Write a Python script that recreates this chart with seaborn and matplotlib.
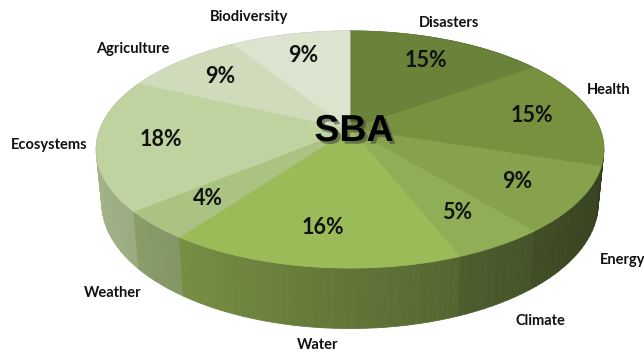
"""3D-style pie of SBA shares, drawn with matplotlib polygons on a seaborn theme."""
import matplotlib
matplotlib.use("Agg")
import matplotlib.pyplot as plt
import matplotlib.patheffects as pe
import numpy as np
import seaborn as sns

# data
categories = ["Disasters", "Health", "Energy", "Climate", "Water",
              "Weather", "Ecosystems", "Agriculture", "Biodiversity"]
shares = [15, 15, 9, 5, 16, 4, 18, 9, 9]
pct_labels = [f"{v}%" for v in shares]
center_title = "SBA"

# style
top_hex = ["#6a833b", "#78913f", "#86a24d", "#8fae55", "#9bbb59",
           "#aac383", "#bfd3a0", "#cfdbbb", "#dce4cf"]
# small pixel nudges for the outside labels (Excel-like placement)
label_nudge = {"Health": (-22, -20), "Ecosystems": (12, 0), "Energy": (6, -4),
               "Climate": (6, 5), "Water": (8, 4), "Biodiversity": (2, -4),
               "Disasters": (-6, -4)}

sns.set_theme(style="white")
plt.rcParams["font.family"] = ["Lato", "DejaVu Sans"]
pal = sns.color_palette(top_hex)

# projection of a tilted disc with mild perspective (image pixel coords)
CX, CY = 350.0, 129.0
SPHI = 0.46
CPHI = np.sqrt(1 - SPHI ** 2)
PERSP = 0.173
DIST = CPHI / PERSP
FOC = 250.0 * DIST
HEIGHT = 0.245


def project(r, theta, y=0.0):
    x = r * np.cos(theta)
    z = r * np.sin(theta)
    yc = y * CPHI + z * SPHI
    d = DIST + z * CPHI - y * SPHI
    return CX + FOC * x / d, CY - FOC * yc / d


def shade(rgb, theta):
    f = 0.63 - 0.23 * np.cos(theta)
    return tuple(np.clip(np.array(rgb) * f, 0, 1))


fig = plt.figure(figsize=(6.44, 3.52), dpi=100)
ax = fig.add_axes([0, 0, 1, 1])
ax.set_xlim(0, 644)
ax.set_ylim(352, 0)
ax.axis("off")

total = float(sum(shares))
bounds = np.concatenate([[0], np.cumsum(shares)]) / total
starts = np.pi / 2 - 2 * np.pi * bounds[:-1]
ends = np.pi / 2 - 2 * np.pi * bounds[1:]

# side wall, split into thin quads for a left-to-right gradient
quads = []
for i, (a, b) in enumerate(zip(starts, ends)):
    n = max(2, int(np.degrees(a - b) / 2))
    ts = np.linspace(a, b, n + 1)
    for t0, t1 in zip(ts[:-1], ts[1:]):
        tm = 0.5 * (t0 + t1)
        quads.append((np.sin(tm), t0, t1, shade(pal[i], tm)))
quads.sort(key=lambda q: -q[0])
for _, t0, t1, col in quads:
    p = [project(1, t0), project(1, t1), project(1, t1, -HEIGHT), project(1, t0, -HEIGHT)]
    xs, ys = zip(*p)
    ax.fill(xs, ys, color=col, lw=0.6, ec=col, zorder=1)

# top faces
for i, (a, b) in enumerate(zip(starts, ends)):
    ts = np.linspace(a, b, 80)
    xs, ys = project(1, ts)
    xs = np.concatenate([[CX], xs])
    ys = np.concatenate([[CY], ys])
    ax.fill(xs, ys, color=pal[i], lw=0.6, ec=pal[i], zorder=2)

# labels
mids = 0.5 * (starts + ends)
for i, t in enumerate(mids):
    px, py = project(0.75, t)
    ax.text(px, py, pct_labels[i], ha="center", va="center", fontsize=15.5,
            fontweight="bold", color="#111111", zorder=4)
    c, s = np.cos(t), np.sin(t)
    yy = -HEIGHT if s < -0.3 else 0.0
    lx, ly = project(1.08, t, yy)
    dx, dy = label_nudge.get(categories[i], (0, 0))
    ha = "left" if c > 0.48 else ("right" if c < -0.25 else "center")
    va = "bottom" if s > 0.3 else "center"
    ax.text(lx + dx, ly + dy, categories[i], ha=ha, va=va, fontsize=10.5,
            fontweight="bold", color="#111111", zorder=4)

ax.text(CX + 4, CY + 2, center_title, ha="center", va="center", fontsize=27,
        fontweight="bold", family=["Liberation Sans", "DejaVu Sans"], color="black",
        zorder=5, path_effects=[pe.withSimplePatchShadow(offset=(2, -2), shadow_rgbFace="#333333", alpha=0.5)])

fig.savefig("out.png", dpi=100)
